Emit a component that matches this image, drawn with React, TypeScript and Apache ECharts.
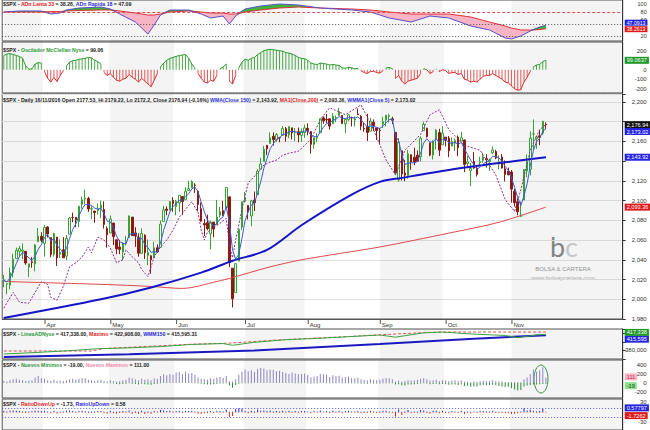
import React, { useEffect, useRef } from "react";
import * as echarts from "echarts";

// ---------------- DATA ----------------
const slotCount = 198; // trading-day slots on the x axis (data + empty right margin)
const monthLabels = ["Apr", "May", "Jun", "Jul", "Aug", "Sep", "Oct", "Nov"];
const monthStartIdx = [13, 34, 55, 77, 97, 120, 141, 162];
const shadedRanges = [[0, 12], [34, 54], [77, 96], [120, 140], [162, 197]];

// S&P 500 daily, 14/03/2016 .. 16/11/2016
const opens = [
  2019.3, 2015.3, 2014.2, 2026.9, 2041.2, 2048.6, 2048.6, 2048.6, 2032.5, 2037.9, 2035.8, 2058.3, 2063.8,
  2056.6, 2073.2, 2062.5, 2045.6, 2063.0, 2045.5, 2050.2, 2043.7, 2065.9, 2082.9, 2083.1, 2078.8, 2096.1, 2101.5, 2102.1, 2091.5, 2089.4, 2089.8, 2092.3, 2090.9, 2071.8,
  2067.2, 2077.2, 2060.3, 2052.9, 2047.8, 2057.6, 2062.6, 2083.3, 2067.2, 2062.5, 2046.5, 2065.0, 2044.4, 2044.2, 2041.9, 2052.2, 2052.6, 2078.9, 2091.4, 2090.1, 2100.1,
  2093.9, 2097.7, 2104.1, 2100.8, 2110.2, 2112.7, 2115.7, 2109.6, 2091.8, 2076.7, 2077.6, 2066.4, 2078.2, 2075.6, 2085.2, 2089.8, 2092.8, 2103.8, 2031.5, 2006.7, 2038.6, 2073.2,
  2099.3, 2095.1, 2084.4, 2100.4, 2106.0, 2131.7, 2139.5, 2155.8, 2157.9, 2165.1, 2162.0, 2163.8, 2166.1, 2172.9, 2166.5, 2173.7, 2168.9, 2169.8, 2166.1, 2168.8,
  2173.2, 2169.9, 2156.8, 2163.5, 2168.8, 2183.8, 2182.2, 2182.8, 2177.9, 2183.7, 2186.1, 2186.2, 2177.8, 2181.9, 2184.2, 2181.6, 2187.8, 2185.1, 2173.3, 2175.1, 2170.2, 2179.5, 2173.6,
  2171.3, 2177.5, 2181.6, 2185.2, 2182.8, 2169.1, 2120.9, 2150.5, 2127.9, 2125.4, 2146.5, 2143.9, 2145.9, 2144.6, 2170.9, 2173.3, 2158.5, 2146.0, 2161.9, 2168.9, 2156.5,
  2164.3, 2163.4, 2155.2, 2158.2, 2164.2, 2160.4, 2161.4, 2137.7, 2130.3, 2139.7, 2132.9, 2138.3, 2140.8, 2142.5, 2139.4, 2148.5, 2149.7, 2136.9, 2144.1, 2132.2, 2129.8,
  2129.0, 2109.4, 2098.8, 2083.8, 2100.6, 2129.9, 2131.6, 2167.5, 2162.7, 2165.6, 2168.3, 2177.5,
];
const highs = [
  2024.6, 2015.9, 2032.0, 2046.2, 2052.4, 2053.9, 2056.6, 2048.6, 2036.0, 2042.7, 2055.9, 2072.2, 2067.9,
  2075.1, 2074.0, 2062.5, 2067.3, 2063.0, 2060.6, 2062.9, 2065.1, 2083.2, 2087.8, 2083.2, 2094.7, 2104.1, 2111.1, 2103.8, 2094.3, 2089.4, 2096.9, 2099.9, 2099.3, 2073.9,
  2084.9, 2077.2, 2060.3, 2060.2, 2057.7, 2064.2, 2084.9, 2083.3, 2073.0, 2066.8, 2071.9, 2065.7, 2060.6, 2044.2, 2058.4, 2055.6, 2079.7, 2094.7, 2094.1, 2099.1, 2103.5,
  2100.7, 2105.3, 2104.1, 2113.4, 2120.0, 2120.6, 2117.6, 2109.6, 2098.1, 2081.3, 2085.7, 2079.6, 2078.2, 2100.7, 2093.7, 2099.7, 2113.3, 2103.8, 2031.5, 2036.1, 2071.5, 2098.9,
  2108.7, 2095.1, 2100.7, 2109.1, 2131.7, 2143.2, 2155.4, 2156.5, 2169.1, 2169.1, 2168.4, 2164.6, 2175.6, 2174.6, 2175.1, 2173.7, 2173.5, 2174.0, 2172.9, 2177.1,
  2178.3, 2170.2, 2164.0, 2168.2, 2182.9, 2185.4, 2187.7, 2183.4, 2188.5, 2186.3, 2193.8, 2186.2, 2183.1, 2187.0, 2185.0, 2185.2, 2193.4, 2186.7, 2179.0, 2187.9, 2183.5, 2182.3, 2173.8,
  2173.6, 2184.9, 2186.6, 2187.9, 2184.9, 2169.1, 2163.3, 2150.5, 2141.3, 2151.3, 2146.5, 2153.6, 2150.8, 2165.1, 2179.9, 2173.8, 2158.5, 2161.1, 2172.4, 2172.7, 2175.3,
  2164.3, 2165.5, 2163.9, 2162.9, 2165.9, 2169.6, 2161.6, 2145.4, 2138.2, 2149.2, 2135.6, 2144.4, 2148.4, 2147.2, 2142.6, 2154.8, 2151.4, 2145.7, 2147.1, 2140.7, 2133.3,
  2131.0, 2111.8, 2102.6, 2099.1, 2132.0, 2146.9, 2170.1, 2182.3, 2165.9, 2171.4, 2180.8, 2179.2,
];
const lows = [
  2012.1, 2005.2, 2010.1, 2022.2, 2041.2, 2043.1, 2040.6, 2034.9, 2022.5, 2031.9, 2028.3, 2058.3, 2057.5,
  2043.2, 2062.6, 2042.6, 2043.1, 2033.8, 2041.7, 2041.9, 2039.7, 2065.9, 2078.1, 2073.0, 2073.0, 2091.7, 2096.3, 2088.5, 2081.2, 2077.5, 2085.8, 2082.3, 2071.6, 2052.3,
  2066.9, 2054.9, 2045.6, 2045.8, 2039.5, 2054.6, 2062.6, 2064.5, 2053.1, 2043.1, 2046.5, 2040.8, 2034.5, 2025.9, 2041.9, 2047.3, 2052.6, 2078.9, 2085.1, 2090.1, 2088.7,
  2085.1, 2088.6, 2085.4, 2100.8, 2110.2, 2112.7, 2107.7, 2089.2, 2078.5, 2064.1, 2069.8, 2050.4, 2062.8, 2075.6, 2083.0, 2084.4, 2092.8, 2032.6, 1991.7, 2006.7, 2038.6, 2070.0,
  2097.9, 2080.9, 2074.0, 2089.4, 2106.0, 2131.7, 2139.5, 2146.2, 2157.9, 2155.8, 2159.5, 2159.0, 2166.1, 2159.8, 2163.2, 2161.9, 2160.2, 2159.1, 2159.7, 2163.5,
  2166.2, 2147.6, 2152.5, 2159.1, 2168.8, 2177.9, 2178.6, 2172.0, 2177.9, 2179.4, 2186.1, 2178.1, 2168.5, 2180.5, 2175.1, 2175.2, 2186.8, 2171.3, 2169.7, 2160.4, 2170.2, 2170.4, 2161.4,
  2157.1, 2173.6, 2175.1, 2179.1, 2177.5, 2127.8, 2119.1, 2120.3, 2119.6, 2122.4, 2131.2, 2135.9, 2139.2, 2139.6, 2170.9, 2163.9, 2145.0, 2141.6, 2151.8, 2145.2, 2156.5,
  2154.8, 2144.0, 2155.2, 2150.3, 2144.9, 2160.4, 2128.8, 2132.8, 2114.7, 2132.2, 2124.4, 2135.5, 2138.2, 2133.4, 2130.1, 2146.9, 2141.9, 2131.6, 2132.5, 2119.4, 2125.5,
  2097.9, 2094.0, 2085.2, 2083.8, 2100.6, 2123.6, 2125.4, 2151.2, 2152.5, 2156.1, 2166.4, 2172.2,
];
const closes = [
  2019.6, 2015.9, 2027.2, 2040.6, 2049.6, 2051.6, 2049.8, 2036.7, 2035.9, 2037.1, 2055.0, 2064.0, 2059.7,
  2072.8, 2066.1, 2045.2, 2066.7, 2041.9, 2047.6, 2042.0, 2061.7, 2082.4, 2082.8, 2080.7, 2094.3, 2100.8, 2102.4, 2091.5, 2091.6, 2087.8, 2091.7, 2095.2, 2075.8, 2065.3,
  2081.4, 2063.4, 2051.1, 2050.6, 2057.1, 2058.7, 2084.4, 2064.5, 2064.1, 2046.6, 2066.7, 2047.2, 2047.6, 2040.0, 2052.3, 2048.0, 2076.1, 2090.5, 2090.1, 2099.1, 2097.0,
  2099.3, 2105.3, 2099.1, 2109.4, 2112.1, 2119.1, 2115.5, 2096.1, 2079.1, 2075.3, 2071.5, 2078.0, 2071.2, 2083.3, 2088.9, 2085.5, 2113.3, 2037.4, 2000.5, 2036.1, 2070.8, 2098.9,
  2103.0, 2088.6, 2099.7, 2097.9, 2129.9, 2137.2, 2152.1, 2152.4, 2163.8, 2161.7, 2166.9, 2163.8, 2173.0, 2165.2, 2175.0, 2168.5, 2169.2, 2166.6, 2170.1, 2173.6,
  2170.8, 2157.0, 2163.8, 2164.3, 2182.9, 2180.9, 2181.7, 2175.5, 2185.8, 2184.1, 2190.2, 2178.2, 2182.2, 2187.0, 2183.9, 2182.6, 2186.9, 2175.4, 2172.5, 2169.0, 2180.4, 2176.1, 2171.0,
  2170.9, 2180.0, 2186.5, 2186.2, 2181.3, 2127.8, 2159.0, 2127.0, 2125.8, 2147.3, 2139.2, 2139.1, 2139.8, 2163.1, 2177.2, 2164.7, 2146.1, 2159.9, 2171.4, 2151.1, 2168.3,
  2161.2, 2150.5, 2159.7, 2160.8, 2153.7, 2163.7, 2136.7, 2139.2, 2132.6, 2133.0, 2126.5, 2139.6, 2144.3, 2141.3, 2141.2, 2151.3, 2143.2, 2139.4, 2133.0, 2126.4, 2126.2,
  2111.7, 2097.9, 2088.7, 2085.2, 2131.5, 2139.6, 2163.3, 2167.5, 2164.5, 2164.2, 2180.4, 2176.9,
];

// overlays: [dayIndex, value]
const wma150Pts = [[0, 1981], [31, 2000], [47, 2012], [63, 2027], [73, 2039], [84, 2050], [95, 2075], [111, 2106], [120, 2119], [127, 2123], [142, 2131], [158, 2138], [173, 2143.92]];
const ma200Pts = [[0, 2018], [32, 2015], [47, 2013], [57, 2011], [68, 2018], [73, 2022], [84, 2032], [95, 2040], [120, 2053], [142, 2067], [158, 2078], [173, 2093.36]];
const overlayPts = [
  [0, 1991], [3, 2007], [5, 1997], [8, 1996], [12, 2018], [14, 2015], [15, 2002], [17, 1999], [19, 2013], [20, 2023], [21, 2033], [23, 2037],
  [25, 2043], [27, 2053], [28, 2047], [30, 2063], [32, 2060], [34, 2052], [36, 2037], [38, 2040], [39, 2050], [41, 2043], [43, 2037], [44, 2030],
  [46, 2023], [48, 2043], [50, 2053], [52, 2060], [54, 2070], [56, 2083], [58, 2091], [60, 2099], [62, 2088], [63, 2070], [64, 2060], [65, 2068],
  [67, 2073], [69, 2077], [71, 2082], [72, 2055], [73, 2042], [74, 2060], [76, 2091], [78, 2118], [81, 2128], [83, 2136], [85, 2139], [87, 2141],
  [89, 2146], [91, 2148], [94, 2150], [98, 2162], [101, 2182], [104, 2194], [109, 2187], [114, 2197], [118, 2172], [122, 2141], [125, 2126], [128, 2151],
  [133, 2167], [136, 2187], [139, 2192], [142, 2172], [147, 2156], [152, 2151], [157, 2126], [160, 2101], [163, 2089], [165, 2111], [168, 2151], [171, 2172], [173, 2177],
];

// top panel: ADn Lenta 33 (slow) / ADn Rapida 18 (fast)
const adnIdx = [0, 5, 12, 15, 18, 20, 24, 31, 34, 37, 42, 46, 48, 50, 53, 59, 63, 66, 70, 72, 74, 77, 82, 88, 94, 101, 111, 117, 123, 130, 136, 142, 149, 155, 160, 162, 165, 168, 171, 173];
const adnSlow = [80, 80, 80, 81, 81, 82.5, 83.8, 85, 85, 82.5, 77.5, 72.5, 72.5, 75, 80, 82.5, 80, 77.5, 77.5, 75, 75, 80, 85, 90, 92.5, 90, 87.5, 85, 80, 75, 75, 75, 67.5, 55, 45, 40, 35, 35, 36, 38.26];
const adnFast = [80, 82.5, 82.5, 75, 77.5, 85, 90, 92.5, 87.5, 75, 55, 25, 47.5, 72.5, 85, 85, 75, 65, 70, 50, 70, 87.5, 95, 100, 97.5, 90, 85, 80, 65, 55, 70, 65, 45, 35, 15, 12.5, 20, 32.5, 42.5, 47.09];

// McClellan oscillator NYSE (daily)
const mcclellan = [
  150, 165, 170, 160, 150, 140, 120, 40, 5, 10, 60, 75, 70,
  -20, -90, -130, -80, -125, -60, -10, 40, 80, 95, 100, 110, 115, 120, 130, 125, 100, 85, 60, -30, -60,
  -40, -80, -110, -120, -100, -90, -50, -80, -100, -130, -90, -120, -150, -180, -110, -40, 30, 70, 100, 120, 130,
  140, 150, 155, 160, 120, 60, 20, -40, -90, -130, -140, -110, -120, -60, 10, 30, 60, -120, -150, -60, 20, 80,
  110, 100, 120, 130, 160, 180, 200, 210, 215, 210, 205, 200, 195, 180, 175, 165, 150, 130, 120, 115,
  100, 70, 60, 55, 70, 65, 60, 50, 55, 50, 45, 20, 15, 25, 20, 10, 15, -10, -30, -40, -20, -15, -30,
  -35, -10, 20, 25, 10, -90, -60, -120, -150, -120, -110, -100, -90, -40, 10, 0, -40, -20, 10, -20, 0,
  -10, -40, -30, -30, -50, -40, -100, -110, -130, -120, -130, -100, -70, -60, -60, -40, -60, -80, -100, -130, -140,
  -170, -200, -215, -210, -130, -80, -20, 30, 50, 55, 85, 99,
];

// NYSE AD line panel: [dayIndex, value]
const adLinePts = [[0, 371700], [10, 375000], [20, 379000], [30, 384000], [40, 386000], [50, 389000], [60, 394000], [70, 396000], [73, 392000], [80, 399000], [90, 405000], [100, 408000], [110, 412000], [120, 416000], [125, 411000], [134, 421000], [140, 422900], [150, 418000], [160, 415000], [164, 410000], [170, 416000], [173, 417338]];
const adMaxPts = [[0, 378700], [28, 378700], [32, 384500], [60, 394500], [72, 397000], [90, 405500], [110, 412500], [120, 416500], [134, 421500], [140, 422908], [173, 422908]];
const adWmmPts = [[0, 364700], [40, 371000], [80, 380000], [120, 395000], [150, 407000], [173, 415595]];

// New highs / new lows NYSE (daily)
const newHighs = [
  40, 30, 60, 80, 90, 70, 60, 40, 50, 60, 120, 150, 110,
  90, 60, 40, 70, 40, 50, 40, 60, 80, 90, 70, 90, 110, 100, 70, 60, 40, 60, 70, 40, 30,
  60, 40, 30, 40, 60, 70, 120, 100, 80, 60, 90, 70, 80, 60, 100, 90, 150, 190, 170, 200, 180,
  230, 240, 200, 250, 210, 220, 180, 120, 90, 80, 70, 100, 90, 120, 130, 110, 150, 40, 30, 80, 180, 250,
  300, 260, 280, 250, 310, 330, 320, 280, 300, 290, 260, 270, 240, 220, 200, 230, 210, 190, 200, 210,
  180, 120, 140, 150, 200, 190, 180, 130, 170, 150, 160, 120, 130, 140, 110, 100, 120, 80, 70, 60, 80, 70, 60,
  70, 90, 110, 100, 80, 30, 50, 30, 40, 60, 50, 60, 70, 90, 110, 80, 50, 60, 70, 40, 60,
  50, 40, 50, 60, 40, 60, 30, 30, 20, 30, 20, 40, 50, 40, 40, 60, 40, 30, 30, 20, 20,
  20, 15, 10, 15, 80, 120, 200, 300, 250, 280, 350, 111,
];
const newLows = [
  -5, -8, -3, -2, -2, -3, -4, -6, -8, -6, -3, -2, -3,
  -5, -6, -10, -6, -12, -8, -10, -6, -3, -3, -4, -3, -2, -2, -4, -5, -6, -5, -5, -8, -12,
  -8, -15, -25, -30, -25, -20, -10, -20, -25, -35, -20, -30, -35, -45, -25, -20, -10, -5, -5, -4, -5,
  -5, -4, -6, -3, -3, -3, -4, -10, -20, -30, -35, -40, -30, -20, -15, -15, -10, -60, -110, -50, -20, -10,
  -8, -10, -8, -6, -4, -3, -3, -4, -3, -4, -5, -6, -5, -5, -4, -6, -8, -10, -8, -6,
  -8, -15, -12, -10, -6, -6, -8, -10, -8, -8, -6, -10, -12, -8, -10, -10, -8, -15, -18, -20, -12, -14, -16,
  -15, -10, -8, -8, -12, -40, -30, -55, -60, -40, -35, -30, -25, -15, -10, -15, -30, -25, -20, -30, -25,
  -30, -45, -40, -35, -50, -40, -70, -65, -90, -80, -85, -60, -50, -55, -50, -45, -55, -70, -80, -95, -90,
  -120, -150, -170, -160, -80, -60, -50, -40, -35, -30, -25, -19,
];

// Ratio panel (daily)
const ratioUpDown = [
  3, 2, 4, 5, 4, 3, 2, 2, 2, 3, 4, 4, 3,
  4, 2, 1, 4, 1, 2, 2, 4, 5, 3, 2, 4, 4, 3, 2, 2, 2, 3, 3, 1, 1,
  4, 1, 1, 2, 3, 2, 5, 1, 2, 1, 4, 1, 2, 1, 3, 2, 6, 5, 3, 4, 2,
  3, 4, 2, 4, 3, 4, 2, 1, 1, 1, 2, 3, 1, 4, 3, 2, 8, 1, 1, 9, 12, 11,
  4, 1, 4, 2, 8, 4, 5, 3, 5, 2, 3, 2, 4, 2, 4, 2, 3, 2, 3, 3,
  2, 1, 3, 2, 5, 2, 3, 1, 4, 2, 4, 1, 3, 4, 2, 2, 4, 1, 2, 2, 4, 2, 1,
  2, 4, 4, 2, 1, 1, 8, 1, 2, 6, 1, 2, 2, 6, 5, 2, 1, 4, 4, 1, 4,
  1, 1, 3, 2, 1, 4, 1, 2, 1, 2, 1, 4, 3, 2, 2, 4, 1, 1, 1, 1, 2,
  1, 1, 1, 2, 12, 5, 7, 4, 2, 3, 10, 0.58,
];
const ratioDownUp = [
  -1, -2, -1, -1, -1, -1, -2, -3, -2, -1, -1, -1, -2,
  -1, -2, -4, -1, -5, -2, -2, -1, -1, -1, -2, -1, -1, -1, -3, -2, -2, -1, -1, -4, -5,
  -1, -4, -5, -3, -2, -2, -1, -5, -3, -6, -1, -6, -3, -5, -1, -2, -1, -1, -1, -1, -2,
  -1, -1, -2, -1, -1, -1, -2, -5, -6, -4, -3, -1, -3, -1, -1, -2, -1, -16, -12, -1, -1, -1,
  -1, -4, -1, -2, -1, -1, -1, -2, -1, -2, -1, -2, -1, -2, -1, -2, -1, -2, -1, -1,
  -1, -4, -1, -2, -1, -1, -1, -3, -1, -2, -1, -4, -1, -1, -2, -2, -1, -4, -3, -3, -1, -2, -3,
  -2, -1, -1, -2, -2, -14, -1, -9, -3, -1, -3, -2, -2, -1, -1, -3, -5, -1, -1, -4, -1,
  -3, -4, -1, -2, -3, -1, -7, -2, -4, -1, -3, -1, -1, -2, -2, -1, -3, -3, -3, -4, -2,
  -6, -5, -4, -2, -1, -1, -1, -1, -2, -2, -1, -1.73,
];

// ---------------- HELPERS ----------------
const FONT = "'Liberation Sans', Arial, sans-serif";
const cats = Array.from({ length: slotCount }, (_, i) => String(i));

function wma(values: number[], n: number) {
  return values.map((_, i) => {
    let s = 0, w = 0;
    for (let k = 0; k < n && i - k >= 0; k++) {
      s += values[i - k] * (n - k);
      w += n - k;
    }
    return +(s / w).toFixed(2);
  });
}

const hiddenLine = { color: "rgba(0,0,0,0)", width: 0 };

function tag(value: number, text: string, bg: string, fg = "#fff", offset = 0, fs = 5.6) {
  return {
    yAxis: value,
    lineStyle: hiddenLine,
    label: {
      show: true,
      position: "end",
      formatter: text,
      color: fg,
      backgroundColor: bg,
      padding: [1, 2, 0, 2],
      fontSize: fs,
      fontFamily: FONT,
      distance: 2,
      offset: [0, offset],
    },
  };
}

function tags(list: any[]) {
  return { silent: true, symbol: "none", lineStyle: hiddenLine, data: list };
}

const shading = {
  silent: true,
  itemStyle: { color: "rgba(0,0,0,0.045)" },
  data: shadedRanges.map(([a, b]) => [{ xAxis: a }, { xAxis: b }]),
};

function rich(fs: number) {
  const mk = (c: string) => ({ color: c, fontSize: fs, fontFamily: FONT });
  return { k: mk("#222"), r: mk("#e02424"), b: mk("#2a2ad6"), g: mk("#2f9a3a"), p: mk("#f08aa8") };
}

// ---------------- COMPONENT ----------------
export default function App() {
  const ref = useRef<HTMLDivElement>(null);

  useEffect(() => {
    if (!ref.current) return;
    const chart = echarts.init(ref.current, undefined, { renderer: "svg" });

    const gridDefs = [
      { top: 0, height: 41 },
      { top: 42, height: 51 },
      { top: 94, height: 225 },
      { top: 329, height: 30 },
      { top: 360, height: 38 },
      { top: 399, height: 31 },
    ];
    const grid = gridDefs.map((g) => ({
      ...g,
      left: 2.2,
      right: 27.3,
      show: true,
      borderColor: "#555",
      borderWidth: 1,
      backgroundColor: "transparent",
    }));

    const xAxis = gridDefs.map((_, g) => ({
      type: "category",
      gridIndex: g,
      data: cats,
      boundaryGap: true,
      axisLine: { show: g === 2, lineStyle: { color: "#555" } },
      axisTick: { show: false },
      axisLabel: {
        show: g === 2,
        interval: 0,
        align: "left",
        margin: 0,
        formatter: (v: string) => {
          const k = monthStartIdx.indexOf(Number(v));
          return k >= 0 ? "{t|}{m|" + monthLabels[k] + "}" : "";
        },
        rich: {
          t: { width: 1, height: 5, backgroundColor: "#555", verticalAlign: "top" },
          m: { fontSize: 6, fontFamily: FONT, color: "#333", padding: [3, 0, 0, 1], verticalAlign: "top" },
        },
      },
      splitLine: { show: false },
    }));

    const yAx = (g: number, min: number, max: number, interval: number, every: number, hide: number[] = [], fmt = (v: number) => String(v), split = false, fs = 6) => ({
      type: "value",
      gridIndex: g,
      position: "right",
      min,
      max,
      interval,
      axisLine: { show: true, lineStyle: { color: "#333" } },
      axisTick: { show: interval === every, length: 3, lineStyle: { color: "#333" } },
      axisLabel: {
        fontSize: fs,
        fontFamily: FONT,
        color: "#333",
        margin: 24,
        align: "right",
        formatter: (v: number) => (Math.abs(v % every) < 1e-6 && hide.indexOf(v) < 0 ? fmt(v) : ""),
      },
      splitLine: { show: split, lineStyle: { color: "#e2e2e2" } },
    });
    const commas = (v: number) => v.toLocaleString("en-US");
    const yAxis = [
      yAx(0, 7.5, 110, 2.5, 20, [40], String, false, 5.5),
      yAx(1, -245, 292, 5, 100, [100]),
      yAx(2, 1980, 2208, 20, 20, [2180, 2140], commas, true),
      yAx(3, 360000, 430000, 20000, 20000, [360000, 400000, 420000], commas),
      yAx(4, -340, 511, 20, 200),
      yAx(5, -55, 40, 5, 30, [0]),
    ];

    const lowerEdge = adnIdx.map((d, i) => [d, Math.min(adnSlow[i], adnFast[i])]);
    const pinkBand = adnIdx.map((d, i) => [d, Math.max(adnSlow[i] - adnFast[i], 0)]);
    const greenBand = adnIdx.map((d, i) => [d, Math.max(adnFast[i] - adnSlow[i], 0)]);

    const candles = opens.map((o, i) => [o, closes[i], lows[i], highs[i]]);
    const wma5 = wma(closes, 5);
    const oscPos = mcclellan.map((v) => (v >= 0 ? v : null));
    const oscNeg = mcclellan.map((v) => (v <= 0 ? v : null));

    const noSym = { symbol: "none", silent: true };

    const series: any[] = [
      {
        type: "line", ...noSym, xAxisIndex: 0, yAxisIndex: 0, stack: "adn", data: lowerEdge,
        lineStyle: { opacity: 0 }, markArea: shading,
        markLine: {
          silent: true, symbol: "none", label: { show: false },
          data: [
            { yAxis: 80, lineStyle: { color: "#e05050", type: [3, 2], width: 1 } },
            { yAxis: 50, lineStyle: { color: "#555", type: [1, 2], width: 1 } },
            { yAxis: 20, lineStyle: { color: "#555", type: [1, 2], width: 1 } },
          ],
        },
      },
      { type: "line", ...noSym, xAxisIndex: 0, yAxisIndex: 0, stack: "adn", data: pinkBand, lineStyle: { opacity: 0 }, areaStyle: { color: "#f6b4c4", opacity: 1 } },
      { type: "line", ...noSym, xAxisIndex: 0, yAxisIndex: 0, stack: "adn", data: greenBand, lineStyle: { opacity: 0 }, areaStyle: { color: "#3fb23f", opacity: 1 } },
      {
        type: "line", ...noSym, xAxisIndex: 0, yAxisIndex: 0, data: adnIdx.map((d, i) => [d, adnSlow[i]]),
        lineStyle: { color: "#e0303a", width: 1 },
        markLine: tags([tag(38.26, "38.2613", "#e01818", "#fff", 0.5, 5.2)]),
      },
      {
        type: "line", ...noSym, xAxisIndex: 0, yAxisIndex: 0, data: adnIdx.map((d, i) => [d, adnFast[i]]),
        lineStyle: { color: "#5a4fc8", width: 1 },
        markLine: tags([tag(47.09, "47.0913", "#2323e0", "#fff", -2.5, 5.2)]),
      },
      {
        type: "bar", silent: true, xAxisIndex: 1, yAxisIndex: 1, data: mcclellan, barWidth: 1,
        itemStyle: { color: (p: any) => (p.value >= 0 ? "#4aa84a" : "#e05a5a") },
        markArea: shading,
        markLine: {
          silent: true, symbol: "none",
          data: [
            { yAxis: -240, lineStyle: { color: "#888", type: [1, 2], width: 1 }, label: { show: false } },
            tag(99.06, "99.0637", "#1f9a2a"),
          ],
        },
      },
      { type: "line", ...noSym, xAxisIndex: 1, yAxisIndex: 1, data: oscPos, lineStyle: { width: 1, color: "#2f9a2f" } },
      { type: "line", ...noSym, xAxisIndex: 1, yAxisIndex: 1, data: oscNeg, lineStyle: { width: 1, color: "#d83030" } },
      {
        type: "candlestick", silent: true, xAxisIndex: 2, yAxisIndex: 2, data: candles, barWidth: 2,
        itemStyle: { color: "#ffffff", color0: "#8c1a10", borderColor: "#35a335", borderColor0: "#8c1a10", borderWidth: 1 },
        markArea: shading,
        markLine: tags([tag(2176.94, "2,176.94", "#111")]),
      },
      { type: "line", ...noSym, xAxisIndex: 2, yAxisIndex: 2, data: overlayPts, lineStyle: { color: "#8a2c8e", width: 1, type: [2, 1.5] } },
      {
        type: "line", ...noSym, xAxisIndex: 2, yAxisIndex: 2, data: ma200Pts, smooth: 0.3,
        lineStyle: { color: "#e04848", width: 1 },
        markLine: tags([tag(2093.36, "2,093.36", "#e01818")]),
      },
      {
        type: "line", ...noSym, xAxisIndex: 2, yAxisIndex: 2, data: wma150Pts, smooth: 0.3,
        lineStyle: { color: "#1414c8", width: 2 },
        markLine: tags([tag(2143.92, "2,143.92", "#2323e0")]),
      },
      {
        type: "line", ...noSym, xAxisIndex: 2, yAxisIndex: 2, data: wma5,
        lineStyle: { color: "#3a5ad8", width: 1 },
        markLine: tags([tag(2173.02, "2,173.02", "#2323e0", "#fff", 3)]),
      },
      { type: "line", ...noSym, xAxisIndex: 3, yAxisIndex: 3, data: adMaxPts, lineStyle: { color: "#e05050", width: 1, type: [3, 2] }, markArea: shading },
      {
        type: "line", ...noSym, xAxisIndex: 3, yAxisIndex: 3, data: adWmmPts,
        lineStyle: { color: "#1a1ac0", width: 2 },
        markLine: tags([tag(415595, "415,595", "#2323e0", "#fff", 4)]),
      },
      {
        type: "line", ...noSym, xAxisIndex: 3, yAxisIndex: 3, data: adLinePts,
        lineStyle: { color: "#3aa040", width: 1 },
        markLine: tags([tag(417338, "417,338", "#1f9a2a", "#fff", -2)]),
      },
      {
        type: "bar", silent: true, xAxisIndex: 4, yAxisIndex: 4, data: newHighs, barWidth: 1, barGap: "-100%",
        itemStyle: { color: "#8c84c0" }, markArea: shading,
        markLine: tags([tag(111, "111", "#f6b6c6", "#c03050", -1)]),
      },
      {
        type: "bar", silent: true, xAxisIndex: 4, yAxisIndex: 4, data: newLows, barWidth: 1, barGap: "-100%",
        itemStyle: { color: "#2f8a3a" },
        markLine: tags([tag(-19, "-19", "#8fe08f", "#114411", 2)]),
      },
      {
        type: "bar", silent: true, xAxisIndex: 5, yAxisIndex: 5, data: ratioUpDown, barWidth: 1, barGap: "-100%",
        itemStyle: { color: "#2a2ad0" }, markArea: shading,
        markLine: {
          silent: true, symbol: "none",
          data: [
            { yAxis: 11, lineStyle: { color: "#5a5ad0", type: [1, 2], width: 1 }, label: { show: false } },
            { yAxis: -17, lineStyle: { color: "#5a5ad0", type: [1, 2], width: 1 }, label: { show: false } },
            tag(0.578, "0.57797", "#2323e0", "#fff", -4),
          ],
        },
      },
      {
        type: "bar", silent: true, xAxisIndex: 5, yAxisIndex: 5, data: ratioDownUp, barWidth: 1, barGap: "-100%",
        itemStyle: { color: "#e02a2a" },
        markLine: tags([tag(-1.73, "-1.7262", "#e01818", "#fff", 3)]),
      },
    ];

    const R = rich(5.2);
    const title = [
      { top: 1, text: "{k|$SPX - }{r|ADn Lenta 33}{k| = 38.26, }{b|ADn Rapida 18}{k| = 47.09}" },
      { top: 47, text: "{k|$SPX - }{g|Oscilador McClellan Nyse}{k| = 99.06}" },
      { top: 97, text: "{k|$SPX - Daily 16/11/2016 Open 2177.53, Hi 2179.22, Lo 2172.2, Close 2176.94 (-0.16%) }{b|WMA(Close 150)}{k| = 2,143.92, }{r|MA1(Close,200)}{k| = 2,093.36, }{b|WMMA1(Close 5)}{k| = 2,173.02}" },
      { top: 331, text: "{k|$SPX - }{g|LineaADNyse}{k| = 417,338.00, }{r|Maximo}{k| = 422,908.00, }{b|WMM150}{k| = 415,595.31}" },
      { top: 362, text: "{k|$SPX - }{g|Nuevos Minimos}{k| = -19.00, }{p|Nuevos Maximos}{k| = 111.00}" },
      { top: 401, text: "{k|$SPX - }{r|RatioDownUp}{k| = -1.73, }{b|RatioUpDown}{k| = 0.58}" },
    ].map((t) => ({ ...t, left: 3, padding: 0, textStyle: { fontSize: 5.2, fontFamily: FONT, rich: R } }));

    const graphic = [
      { type: "rect", shape: { x: 527, y: 232, width: 72, height: 50 }, style: { fill: "rgba(255,255,255,0.55)" }, silent: true },
      {
        type: "text", x: 564, y: 246, silent: true,
        style: {
          text: "{b|b}{c|c}", textAlign: "center", textVerticalAlign: "middle",
          rich: {
            b: { fontSize: 27, lineHeight: 20, fontFamily: "Lato, sans-serif", fill: "#8a8a8a", color: "#8a8a8a" },
            c: { fontSize: 27, lineHeight: 20, fontFamily: "Lato, sans-serif", fill: "#cfcfcf", color: "#cfcfcf" },
          },
        },
      },
      { type: "text", x: 563, y: 269, style: { text: "BOLSA & CARTERA", fontSize: 6, fontFamily: FONT, fill: "#9a9a9a", textAlign: "center", textVerticalAlign: "middle" }, silent: true },
      { type: "text", x: 563, y: 278, style: { text: "www.bolsaycartera.com", fontSize: 6, fontFamily: FONT, fill: "#b4b4b4", textAlign: "center", textVerticalAlign: "middle" }, silent: true },
      { type: "ellipse", shape: { cx: 541, cy: 379, rx: 7, ry: 14 }, style: { fill: "none", stroke: "#3d9a4a", lineWidth: 1 }, silent: true },
    ];

    chart.setOption({
      animation: false,
      backgroundColor: "#ffffff",
      title,
      grid,
      xAxis,
      yAxis,
      series,
      graphic,
    });

    return () => chart.dispose();
  }, []);

  return (
    <div
      ref={ref}
      style={{ position: "absolute", left: 0, top: 0, width: 650, height: 430, background: "#fff" }}
    />
  );
}
